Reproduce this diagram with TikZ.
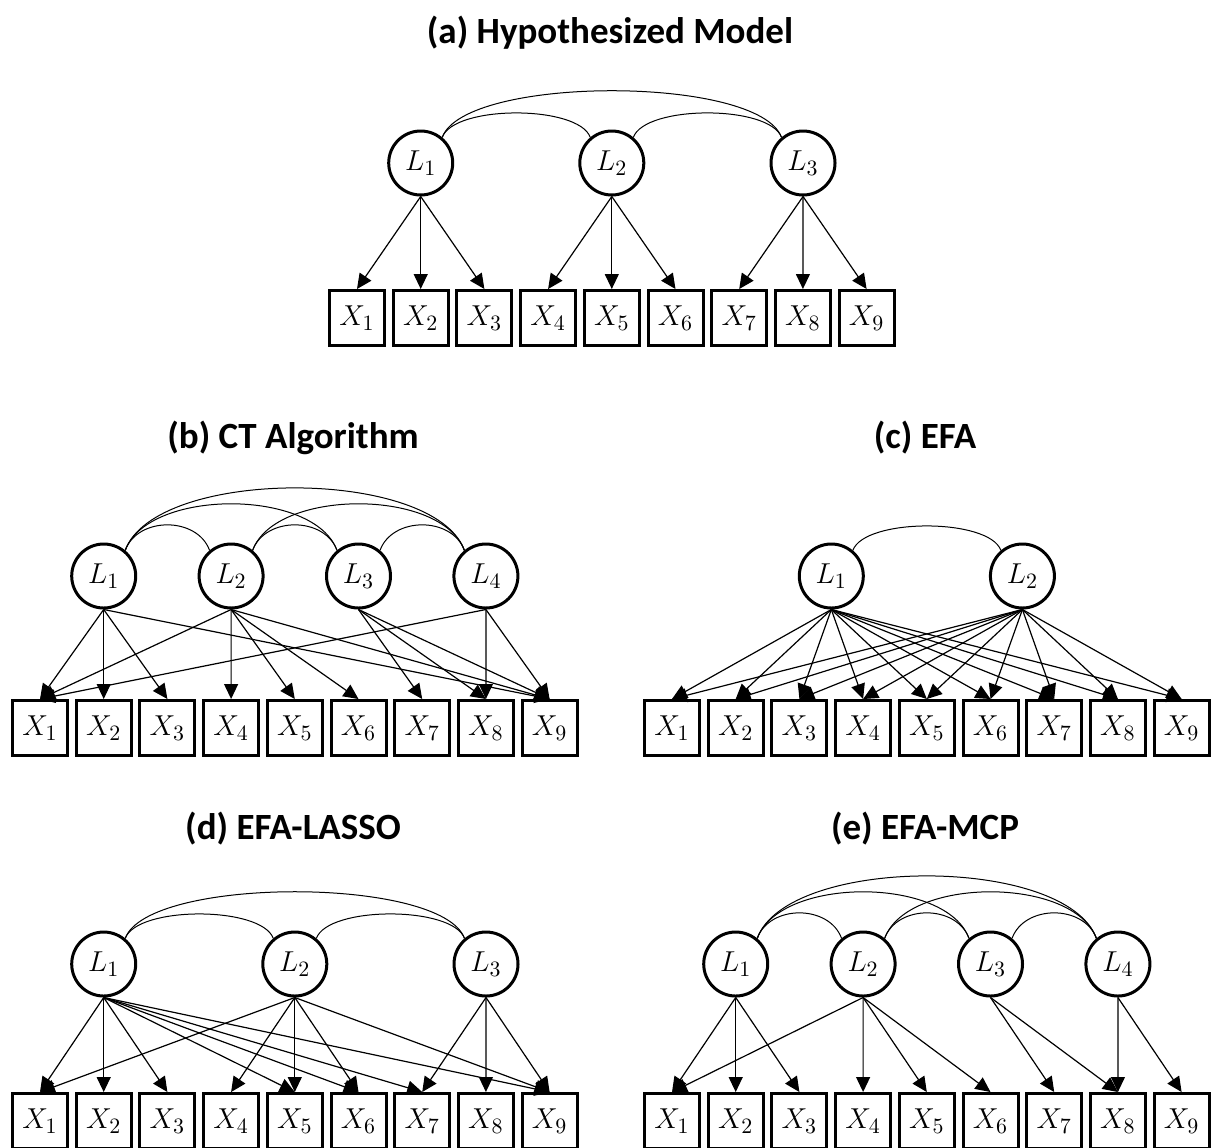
\documentclass[tikz,border=0pt]{standalone}
\usepackage{fontspec}
\usepackage{tikz}
\usetikzlibrary{arrows.meta}
\newfontfamily\titlefont{Carlito}

\begin{document}
\begin{tikzpicture}[
    x=0.5pt, y=-0.5pt,
    latent/.style={
        circle,
        draw,
        line width=1.5pt,
        minimum size=32pt,
        inner sep=0pt,
        font=\fontsize{15}{17}\selectfont
    },
    obs/.style={
        rectangle,
        draw,
        line width=1.5pt,
        minimum width=27.5pt,
        minimum height=27.5pt,
        inner sep=0pt,
        font=\fontsize{15}{17}\selectfont
    },
    heading/.style={font=\titlefont\bfseries\fontsize{18.5}{20}\selectfont},
    load/.style={line width=0.6pt, -{Triangle[length=7.5pt,width=7pt]}},
    cov/.style={line width=0.5pt, out=70, in=110}
]
\useasboundingbox (0,0) rectangle (1213,1147);

% (a) hypothesized model
\node[heading] (ta) at (610,33) {(a) Hypothesized Model};
\foreach \i in {1,...,9}
    \node[obs] (aX\i) at ({357+63.7*(\i-1)},318) {$X_{\i}$};
\node[latent] (aL1) at (420.7,163) {$L_1$};
\node[latent] (aL2) at (611.8,163) {$L_2$};
\node[latent] (aL3) at (803,163) {$L_3$};
\foreach \s/\t in {1/1,1/2,1/3,2/4,2/5,2/6,3/7,3/8,3/9}
    \draw[load] (aL\s.south) -- (aX\t.north);
\draw[cov, looseness=0.6] (aL1.50) to (aL2.130);
\draw[cov, looseness=0.6] (aL2.50) to (aL3.130);
\draw[cov, looseness=0.5] (aL1.50) to (aL3.130);

% (b) CT algorithm
\node[heading] (tb) at (293,438) {(b) CT Algorithm};
\foreach \i in {1,...,9}
    \node[obs] (bX\i) at ({40+63.7*(\i-1)},728) {$X_{\i}$};
\node[latent] (bL1) at (103.7,576) {$L_1$};
\node[latent] (bL2) at (231.1,576) {$L_2$};
\node[latent] (bL3) at (358.5,576) {$L_3$};
\node[latent] (bL4) at (485.9,576) {$L_4$};
\foreach \s/\t in {1/1,1/2,1/3,1/9,2/1,2/4,2/5,2/6,2/9,3/7,3/8,3/9,4/1,4/8,4/9}
    \draw[load] (bL\s.south) -- (bX\t.north);
\draw[cov, looseness=1.1] (bL1.50) to (bL2.130);
\draw[cov, looseness=1.1] (bL2.50) to (bL3.130);
\draw[cov, looseness=1.1] (bL3.50) to (bL4.130);
\draw[cov, looseness=0.8] (bL1.50) to (bL3.130);
\draw[cov, looseness=0.8] (bL2.50) to (bL4.130);
\draw[cov, looseness=0.67] (bL1.50) to (bL4.130);

% (c) EFA
\node[heading] (tc) at (925,438) {(c) EFA};
\foreach \i in {1,...,9}
    \node[obs] (cX\i) at ({672+63.7*(\i-1)},728) {$X_{\i}$};
\node[latent] (cL1) at (831.3,576) {$L_1$};
\node[latent] (cL2) at (1022.4,576) {$L_2$};
\foreach \s in {1,2}
    \foreach \t in {1,...,9}
        \draw[load] (cL\s.south) -- (cX\t.north);
\draw[cov, looseness=0.6] (cL1.50) to (cL2.130);

% (d) EFA-LASSO
\node[heading] (td) at (293,829) {(d) EFA-LASSO};
\foreach \i in {1,...,9}
    \node[obs] (dX\i) at ({40+63.7*(\i-1)},1121) {$X_{\i}$};
\node[latent] (dL1) at (103.7,964) {$L_1$};
\node[latent] (dL2) at (294.8,964) {$L_2$};
\node[latent] (dL3) at (486,964) {$L_3$};
\foreach \s/\t in {1/1,1/2,1/3,1/5,1/6,1/7,1/9,2/1,2/4,2/5,2/6,2/9,3/7,3/8,3/9}
    \draw[load] (dL\s.south) -- (dX\t.north);
\draw[cov, looseness=0.6] (dL1.50) to (dL2.130);
\draw[cov, looseness=0.6] (dL2.50) to (dL3.130);
\draw[cov, looseness=0.5] (dL1.50) to (dL3.130);

% (e) EFA-MCP
\node[heading] (te) at (925,829) {(e) EFA-MCP};
\foreach \i in {1,...,9}
    \node[obs] (eX\i) at ({672+63.7*(\i-1)},1121) {$X_{\i}$};
\node[latent] (eL1) at (735.7,964) {$L_1$};
\node[latent] (eL2) at (863.1,964) {$L_2$};
\node[latent] (eL3) at (990.5,964) {$L_3$};
\node[latent] (eL4) at (1117.9,964) {$L_4$};
\foreach \s/\t in {1/1,1/2,1/3,2/1,2/4,2/5,2/6,3/7,3/8,4/8,4/9}
    \draw[load] (eL\s.south) -- (eX\t.north);
\draw[cov, looseness=1.1] (eL1.50) to (eL2.130);
\draw[cov, looseness=1.1] (eL2.50) to (eL3.130);
\draw[cov, looseness=1.1] (eL3.50) to (eL4.130);
\draw[cov, looseness=0.8] (eL1.50) to (eL3.130);
\draw[cov, looseness=0.8] (eL2.50) to (eL4.130);
\draw[cov, looseness=0.67] (eL1.50) to (eL4.130);

\end{tikzpicture}
\end{document}
